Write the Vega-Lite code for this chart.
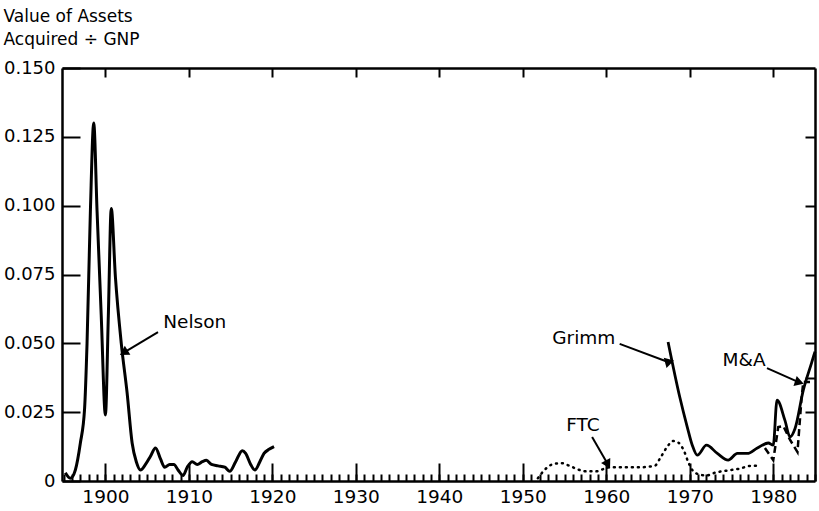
{
  "$schema": "https://vega.github.io/schema/vega-lite/v6.json",
  "width": 753,
  "height": 413,
  "autosize": "none",
  "padding": {"left": 62, "top": 68, "right": 4, "bottom": 30},
  "background": "white",
  "config": {
    "view": {"stroke": null},
    "font": "DejaVu Sans",
    "axis": {"grid": false, "domainColor": "black", "tickColor": "black", "labelColor": "black", "titleColor": "black", "domainWidth": 2.5, "tickWidth": 2, "labelFont": "DejaVu Sans", "titleFont": "DejaVu Sans"}
  },
  "datasets": {
    "series": [
      {"series": "Nelson", "year": 1895.2, "value": 0.003},
      {"series": "Nelson", "year": 1895.8, "value": 0.001},
      {"series": "Nelson", "year": 1896.4, "value": 0.004},
      {"series": "Nelson", "year": 1897.0, "value": 0.0138},
      {"series": "Nelson", "year": 1897.5, "value": 0.026},
      {"series": "Nelson", "year": 1897.8, "value": 0.050},
      {"series": "Nelson", "year": 1898.2, "value": 0.098},
      {"series": "Nelson", "year": 1898.6, "value": 0.130},
      {"series": "Nelson", "year": 1899.0, "value": 0.098},
      {"series": "Nelson", "year": 1899.5, "value": 0.060},
      {"series": "Nelson", "year": 1900.0, "value": 0.024},
      {"series": "Nelson", "year": 1900.35, "value": 0.060},
      {"series": "Nelson", "year": 1900.7, "value": 0.099},
      {"series": "Nelson", "year": 1901.2, "value": 0.074},
      {"series": "Nelson", "year": 1901.9, "value": 0.050},
      {"series": "Nelson", "year": 1902.6, "value": 0.032},
      {"series": "Nelson", "year": 1903.2, "value": 0.0138},
      {"series": "Nelson", "year": 1903.7, "value": 0.007},
      {"series": "Nelson", "year": 1904.2, "value": 0.004},
      {"series": "Nelson", "year": 1904.8, "value": 0.006},
      {"series": "Nelson", "year": 1905.4, "value": 0.009},
      {"series": "Nelson", "year": 1906.0, "value": 0.012},
      {"series": "Nelson", "year": 1906.6, "value": 0.008},
      {"series": "Nelson", "year": 1907.1, "value": 0.005},
      {"series": "Nelson", "year": 1907.7, "value": 0.006},
      {"series": "Nelson", "year": 1908.2, "value": 0.006},
      {"series": "Nelson", "year": 1908.7, "value": 0.004},
      {"series": "Nelson", "year": 1909.3, "value": 0.002},
      {"series": "Nelson", "year": 1909.8, "value": 0.005},
      {"series": "Nelson", "year": 1910.4, "value": 0.007},
      {"series": "Nelson", "year": 1911.0, "value": 0.006},
      {"series": "Nelson", "year": 1911.6, "value": 0.007},
      {"series": "Nelson", "year": 1912.1, "value": 0.0075},
      {"series": "Nelson", "year": 1912.7, "value": 0.006},
      {"series": "Nelson", "year": 1913.5, "value": 0.0055},
      {"series": "Nelson", "year": 1914.3, "value": 0.005},
      {"series": "Nelson", "year": 1914.9, "value": 0.0035},
      {"series": "Nelson", "year": 1915.6, "value": 0.007},
      {"series": "Nelson", "year": 1916.4, "value": 0.011},
      {"series": "Nelson", "year": 1916.8, "value": 0.010},
      {"series": "Nelson", "year": 1917.4, "value": 0.006},
      {"series": "Nelson", "year": 1917.9, "value": 0.004},
      {"series": "Nelson", "year": 1918.5, "value": 0.007},
      {"series": "Nelson", "year": 1919.0, "value": 0.010},
      {"series": "Nelson", "year": 1919.6, "value": 0.0115},
      {"series": "Nelson", "year": 1920.2, "value": 0.0125},
      {"series": "Grimm", "year": 1967.4, "value": 0.0505},
      {"series": "Grimm", "year": 1968.8, "value": 0.0305},
      {"series": "Grimm", "year": 1969.7, "value": 0.0196},
      {"series": "Grimm", "year": 1970.3, "value": 0.013},
      {"series": "Grimm", "year": 1970.9, "value": 0.0094},
      {"series": "Grimm", "year": 1972.0, "value": 0.013},
      {"series": "Grimm", "year": 1973.3, "value": 0.010},
      {"series": "Grimm", "year": 1974.6, "value": 0.0076},
      {"series": "Grimm", "year": 1975.7, "value": 0.010},
      {"series": "Grimm", "year": 1976.9, "value": 0.010},
      {"series": "Grimm", "year": 1978.1, "value": 0.012},
      {"series": "Grimm", "year": 1979.4, "value": 0.0138},
      {"series": "Grimm", "year": 1980.0, "value": 0.013},
      {"series": "Grimm", "year": 1980.45, "value": 0.0294},
      {"series": "Grimm", "year": 1981.4, "value": 0.022},
      {"series": "Grimm", "year": 1982.0, "value": 0.016},
      {"series": "Grimm", "year": 1982.6, "value": 0.019},
      {"series": "Grimm", "year": 1983.6, "value": 0.033},
      {"series": "Grimm", "year": 1984.6, "value": 0.043},
      {"series": "Grimm", "year": 1985.0, "value": 0.047},
      {"series": "FTC", "year": 1951.8, "value": 0.001},
      {"series": "FTC", "year": 1952.6, "value": 0.004},
      {"series": "FTC", "year": 1953.5, "value": 0.006},
      {"series": "FTC", "year": 1954.6, "value": 0.0065},
      {"series": "FTC", "year": 1955.6, "value": 0.0055},
      {"series": "FTC", "year": 1956.6, "value": 0.0042},
      {"series": "FTC", "year": 1957.6, "value": 0.0035},
      {"series": "FTC", "year": 1958.8, "value": 0.0035},
      {"series": "FTC", "year": 1959.8, "value": 0.0045},
      {"series": "FTC", "year": 1960.5, "value": 0.005},
      {"series": "FTC", "year": 1962.0, "value": 0.005},
      {"series": "FTC", "year": 1964.0, "value": 0.005},
      {"series": "FTC", "year": 1965.8, "value": 0.0055},
      {"series": "FTC", "year": 1966.4, "value": 0.008},
      {"series": "FTC", "year": 1967.2, "value": 0.012},
      {"series": "FTC", "year": 1968.0, "value": 0.0145},
      {"series": "FTC", "year": 1968.6, "value": 0.014},
      {"series": "FTC", "year": 1969.3, "value": 0.011},
      {"series": "FTC", "year": 1969.8, "value": 0.007},
      {"series": "FTC", "year": 1970.3, "value": 0.004},
      {"series": "FTC", "year": 1971.0, "value": 0.0025},
      {"series": "FTC", "year": 1972.0, "value": 0.002},
      {"series": "FTC", "year": 1973.0, "value": 0.003},
      {"series": "FTC", "year": 1974.5, "value": 0.0038},
      {"series": "FTC", "year": 1976.0, "value": 0.0045},
      {"series": "FTC", "year": 1977.3, "value": 0.0055},
      {"series": "FTC", "year": 1978.3, "value": 0.0055},
      {"series": "M&A", "year": 1979.0, "value": 0.012},
      {"series": "M&A", "year": 1980.0, "value": 0.0076},
      {"series": "M&A", "year": 1980.6, "value": 0.0196},
      {"series": "M&A", "year": 1981.2, "value": 0.020},
      {"series": "M&A", "year": 1982.0, "value": 0.015},
      {"series": "M&A", "year": 1982.9, "value": 0.0105},
      {"series": "M&A", "year": 1983.4, "value": 0.0305},
      {"series": "M&A", "year": 1983.6, "value": 0.036},
      {"series": "M&A", "year": 1984.4, "value": 0.036}
    ],
    "notes": [
      {"label": "Nelson", "tx": 1910.7, "ty": 0.0578, "year": 1906.3, "value": 0.0541, "year2": 1902.35, "value2": 0.0469},
      {"label": "Grimm", "tx": 1957.3, "ty": 0.0519, "year": 1961.6, "value": 0.0498, "year2": 1967.4, "value2": 0.0432},
      {"label": "FTC", "tx": 1957.2, "ty": 0.0203, "year": 1958.3, "value": 0.016, "year2": 1960.1, "value2": 0.0065},
      {"label": "M&A", "tx": 1976.5, "ty": 0.044, "year": 1979.25, "value": 0.041, "year2": 1982.96, "value2": 0.036}
    ]
  },
  "layer": [
    {
      "data": {"name": "series"},
      "transform": [{"filter": "datum.series === 'Nelson'"}],
      "mark": {"type": "line", "color": "black", "strokeWidth": 3, "interpolate": "monotone"},
      "encoding": {
        "x": {"field": "year", "type": "quantitative",
          "scale": {"domain": [1894.8, 1985], "nice": false, "zero": false},
          "axis": {"orient": "bottom", "title": null, "tickSize": -7, "labelPadding": 13, "labelFontSize": 18.5, "labelOverlap": false, "labelFlush": false, "labelBound": false,
            "values": [1895,1896,1897,1898,1899,1900,1901,1902,1903,1904,1905,1906,1907,1908,1909,1910,1911,1912,1913,1914,1915,1916,1917,1918,1919,1920,1921,1922,1923,1924,1925,1926,1927,1928,1929,1930,1931,1932,1933,1934,1935,1936,1937,1938,1939,1940,1941,1942,1943,1944,1945,1946,1947,1948,1949,1950,1951,1952,1953,1954,1955,1956,1957,1958,1959,1960,1961,1962,1963,1964,1965,1966,1967,1968,1969,1970,1971,1972,1973,1974,1975,1976,1977,1978,1979,1980,1981,1982,1983,1984,1985],
            "labelExpr": "datum.value % 10 === 0 ? format(datum.value, 'd') : ''"}},
        "y": {"field": "value", "type": "quantitative",
          "scale": {"domain": [0, 0.15], "nice": false},
          "axis": {"orient": "left", "values": [0, 0.025, 0.05, 0.075, 0.1, 0.125, 0.15], "tickSize": -18, "labelPadding": 25, "labelFontSize": 18,
            "labelExpr": "datum.value === 0 ? '0' : format(datum.value, '.3f')",
            "title": ["Value of Assets", "Acquired ÷ GNP"], "titleAngle": 0, "titleAlign": "left", "titleBaseline": "top", "titleX": -59, "titleY": -60, "titleFontSize": 17, "titleFontWeight": "normal", "titleLineHeight": 23}}
      }
    },
    {
      "data": {"name": "series"},
      "transform": [{"filter": "datum.series === 'Grimm'"}],
      "mark": {"type": "line", "color": "black", "strokeWidth": 2.8, "interpolate": "monotone"},
      "encoding": {
        "x": {"field": "year", "type": "quantitative",
          "axis": {"orient": "bottom", "title": null, "tickSize": -18, "labels": false, "domain": false,
            "values": [1900, 1910, 1920, 1930, 1940, 1950, 1960, 1970, 1980]}},
        "y": {"field": "value", "type": "quantitative",
          "axis": {"orient": "right", "title": null, "tickSize": -10, "labels": false, "domain": true, "values": [0.025, 0.0375, 0.05, 0.075, 0.1, 0.125]}}
      }
    },
    {
      "data": {"name": "series"},
      "transform": [{"filter": "datum.series === 'FTC'"}],
      "mark": {"type": "line", "color": "black", "strokeWidth": 2.5, "strokeDash": [1, 5], "strokeCap": "round", "interpolate": "monotone"},
      "encoding": {
        "x": {"field": "year", "type": "quantitative",
          "axis": {"orient": "top", "title": null, "tickSize": -9, "labels": false, "domain": true,
            "values": [1900, 1910, 1920, 1930, 1940, 1950, 1960, 1970, 1980]}},
        "y": {"field": "value", "type": "quantitative", "axis": null}
      }
    },
    {
      "data": {"name": "series"},
      "transform": [{"filter": "datum.series === 'M&A'"}],
      "mark": {"type": "line", "color": "black", "strokeWidth": 2.5, "strokeDash": [7, 4]},
      "encoding": {
        "x": {"field": "year", "type": "quantitative", "axis": null},
        "y": {"field": "value", "type": "quantitative", "axis": null}
      }
    },
    {
      "data": {"name": "notes"},
      "mark": {"type": "rule", "color": "black", "strokeWidth": 2},
      "encoding": {
        "x": {"field": "year", "type": "quantitative", "axis": null},
        "x2": {"field": "year2"},
        "y": {"field": "value", "type": "quantitative", "axis": null},
        "y2": {"field": "value2"}
      }
    },
    {
      "data": {"name": "notes"},
      "mark": {"type": "point", "shape": "triangle", "filled": true, "color": "black", "size": 110, "opacity": 1},
      "encoding": {
        "x": {"field": "year2", "type": "quantitative", "axis": null},
        "y": {"field": "value2", "type": "quantitative", "axis": null},
        "angle": {"field": "label", "type": "ordinal", "legend": null,
          "scale": {"domain": ["Nelson", "Grimm", "FTC", "M&A"], "range": [238, 108, 150, 114]}}
      }
    },
    {
      "data": {"name": "notes"},
      "mark": {"type": "text", "color": "black", "fontSize": 18.5, "font": "DejaVu Sans", "align": "center", "baseline": "middle"},
      "encoding": {
        "x": {"field": "tx", "type": "quantitative", "axis": null},
        "y": {"field": "ty", "type": "quantitative", "axis": null},
        "text": {"field": "label"}
      }
    }
  ],
  "resolve": {"axis": {"x": "independent", "y": "independent"}}
}
